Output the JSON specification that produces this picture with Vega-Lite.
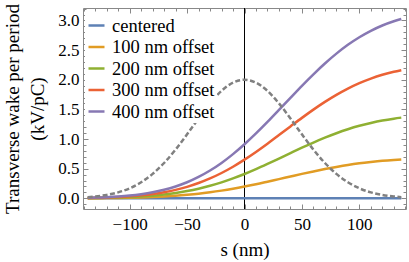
{
  "$schema": "https://vega.github.io/schema/vega-lite/v6.json",
  "width": 323,
  "height": 201,
  "autosize": {"type": "none"},
  "padding": {"left": 83, "top": 8, "right": 3, "bottom": 53},
  "config": {
    "font": "Liberation Serif",
    "view": {"stroke": "#888888", "strokeWidth": 1},
    "axis": {"domain": false, "grid": false, "tickColor": "#888888", "labelColor": "#000000", "labelFont": "Liberation Serif", "labelFontSize": 17, "titleFont": "Liberation Serif", "titleFontSize": 19, "titleFontWeight": "normal", "titleColor": "#000000", "labelOverlap": false, "labelFlush": false, "labelBound": false}
  },
  "datasets": {
    "wake": [
      {"s": -136.5, "k": "centered", "v": 0}, {"s": 136.5, "k": "centered", "v": 0},
      {"s": -136.5, "k": "100 nm offset", "v": 0.002}, {"s": -130, "k": "100 nm offset", "v": 0.003}, {"s": -120, "k": "100 nm offset", "v": 0.004}, {"s": -110, "k": "100 nm offset", "v": 0.007}, {"s": -100, "k": "100 nm offset", "v": 0.010}, {"s": -90, "k": "100 nm offset", "v": 0.015}, {"s": -80, "k": "100 nm offset", "v": 0.022}, {"s": -70, "k": "100 nm offset", "v": 0.031}, {"s": -60, "k": "100 nm offset", "v": 0.043}, {"s": -50, "k": "100 nm offset", "v": 0.059}, {"s": -40, "k": "100 nm offset", "v": 0.078}, {"s": -30, "k": "100 nm offset", "v": 0.102}, {"s": -20, "k": "100 nm offset", "v": 0.130}, {"s": -10, "k": "100 nm offset", "v": 0.162}, {"s": 0, "k": "100 nm offset", "v": 0.198}, {"s": 10, "k": "100 nm offset", "v": 0.237}, {"s": 20, "k": "100 nm offset", "v": 0.280}, {"s": 30, "k": "100 nm offset", "v": 0.324}, {"s": 40, "k": "100 nm offset", "v": 0.368}, {"s": 50, "k": "100 nm offset", "v": 0.412}, {"s": 60, "k": "100 nm offset", "v": 0.454}, {"s": 70, "k": "100 nm offset", "v": 0.493}, {"s": 80, "k": "100 nm offset", "v": 0.529}, {"s": 90, "k": "100 nm offset", "v": 0.562}, {"s": 100, "k": "100 nm offset", "v": 0.590}, {"s": 110, "k": "100 nm offset", "v": 0.613}, {"s": 120, "k": "100 nm offset", "v": 0.633}, {"s": 130, "k": "100 nm offset", "v": 0.648}, {"s": 136.5, "k": "100 nm offset", "v": 0.656},
      {"s": -136.5, "k": "200 nm offset", "v": 0.004}, {"s": -130, "k": "200 nm offset", "v": 0.005}, {"s": -120, "k": "200 nm offset", "v": 0.009}, {"s": -110, "k": "200 nm offset", "v": 0.014}, {"s": -100, "k": "200 nm offset", "v": 0.021}, {"s": -90, "k": "200 nm offset", "v": 0.032}, {"s": -80, "k": "200 nm offset", "v": 0.045}, {"s": -70, "k": "200 nm offset", "v": 0.065}, {"s": -60, "k": "200 nm offset", "v": 0.090}, {"s": -50, "k": "200 nm offset", "v": 0.122}, {"s": -40, "k": "200 nm offset", "v": 0.162}, {"s": -30, "k": "200 nm offset", "v": 0.211}, {"s": -20, "k": "200 nm offset", "v": 0.269}, {"s": -10, "k": "200 nm offset", "v": 0.336}, {"s": 0, "k": "200 nm offset", "v": 0.410}, {"s": 10, "k": "200 nm offset", "v": 0.492}, {"s": 20, "k": "200 nm offset", "v": 0.580}, {"s": 30, "k": "200 nm offset", "v": 0.671}, {"s": 40, "k": "200 nm offset", "v": 0.763}, {"s": 50, "k": "200 nm offset", "v": 0.854}, {"s": 60, "k": "200 nm offset", "v": 0.941}, {"s": 70, "k": "200 nm offset", "v": 1.023}, {"s": 80, "k": "200 nm offset", "v": 1.098}, {"s": 90, "k": "200 nm offset", "v": 1.165}, {"s": 100, "k": "200 nm offset", "v": 1.223}, {"s": 110, "k": "200 nm offset", "v": 1.271}, {"s": 120, "k": "200 nm offset", "v": 1.312}, {"s": 130, "k": "200 nm offset", "v": 1.344}, {"s": 136.5, "k": "200 nm offset", "v": 1.361},
      {"s": -136.5, "k": "300 nm offset", "v": 0.006}, {"s": -130, "k": "300 nm offset", "v": 0.009}, {"s": -120, "k": "300 nm offset", "v": 0.014}, {"s": -110, "k": "300 nm offset", "v": 0.022}, {"s": -100, "k": "300 nm offset", "v": 0.034}, {"s": -90, "k": "300 nm offset", "v": 0.050}, {"s": -80, "k": "300 nm offset", "v": 0.072}, {"s": -70, "k": "300 nm offset", "v": 0.103}, {"s": -60, "k": "300 nm offset", "v": 0.143}, {"s": -50, "k": "300 nm offset", "v": 0.194}, {"s": -40, "k": "300 nm offset", "v": 0.258}, {"s": -30, "k": "300 nm offset", "v": 0.335}, {"s": -20, "k": "300 nm offset", "v": 0.427}, {"s": -10, "k": "300 nm offset", "v": 0.533}, {"s": 0, "k": "300 nm offset", "v": 0.652}, {"s": 10, "k": "300 nm offset", "v": 0.782}, {"s": 20, "k": "300 nm offset", "v": 0.921}, {"s": 30, "k": "300 nm offset", "v": 1.066}, {"s": 40, "k": "300 nm offset", "v": 1.212}, {"s": 50, "k": "300 nm offset", "v": 1.357}, {"s": 60, "k": "300 nm offset", "v": 1.496}, {"s": 70, "k": "300 nm offset", "v": 1.626}, {"s": 80, "k": "300 nm offset", "v": 1.745}, {"s": 90, "k": "300 nm offset", "v": 1.851}, {"s": 100, "k": "300 nm offset", "v": 1.943}, {"s": 110, "k": "300 nm offset", "v": 2.020}, {"s": 120, "k": "300 nm offset", "v": 2.084}, {"s": 130, "k": "300 nm offset", "v": 2.135}, {"s": 136.5, "k": "300 nm offset", "v": 2.162},
      {"s": -136.5, "k": "400 nm offset", "v": 0.009}, {"s": -130, "k": "400 nm offset", "v": 0.012}, {"s": -120, "k": "400 nm offset", "v": 0.020}, {"s": -110, "k": "400 nm offset", "v": 0.031}, {"s": -100, "k": "400 nm offset", "v": 0.047}, {"s": -90, "k": "400 nm offset", "v": 0.070}, {"s": -80, "k": "400 nm offset", "v": 0.101}, {"s": -70, "k": "400 nm offset", "v": 0.144}, {"s": -60, "k": "400 nm offset", "v": 0.200}, {"s": -50, "k": "400 nm offset", "v": 0.271}, {"s": -40, "k": "400 nm offset", "v": 0.361}, {"s": -30, "k": "400 nm offset", "v": 0.469}, {"s": -20, "k": "400 nm offset", "v": 0.597}, {"s": -10, "k": "400 nm offset", "v": 0.746}, {"s": 0, "k": "400 nm offset", "v": 0.912}, {"s": 10, "k": "400 nm offset", "v": 1.094}, {"s": 20, "k": "400 nm offset", "v": 1.288}, {"s": 30, "k": "400 nm offset", "v": 1.491}, {"s": 40, "k": "400 nm offset", "v": 1.695}, {"s": 50, "k": "400 nm offset", "v": 1.898}, {"s": 60, "k": "400 nm offset", "v": 2.092}, {"s": 70, "k": "400 nm offset", "v": 2.274}, {"s": 80, "k": "400 nm offset", "v": 2.440}, {"s": 90, "k": "400 nm offset", "v": 2.589}, {"s": 100, "k": "400 nm offset", "v": 2.717}, {"s": 110, "k": "400 nm offset", "v": 2.825}, {"s": 120, "k": "400 nm offset", "v": 2.915}, {"s": 130, "k": "400 nm offset", "v": 2.986}, {"s": 136.5, "k": "400 nm offset", "v": 3.024}
    ],
    "profile": [
      {"s": -136.5, "v": 0.020}, {"s": -130, "v": 0.031}, {"s": -120, "v": 0.057}, {"s": -110, "v": 0.101}, {"s": -100, "v": 0.169}, {"s": -90, "v": 0.271}, {"s": -80, "v": 0.412}, {"s": -70, "v": 0.596}, {"s": -60, "v": 0.822}, {"s": -50, "v": 1.079}, {"s": -40, "v": 1.347}, {"s": -30, "v": 1.601}, {"s": -20, "v": 1.812}, {"s": -10, "v": 1.951}, {"s": 0, "v": 2.000}, {"s": 10, "v": 1.951}, {"s": 20, "v": 1.812}, {"s": 30, "v": 1.601}, {"s": 40, "v": 1.347}, {"s": 50, "v": 1.079}, {"s": 60, "v": 0.822}, {"s": 70, "v": 0.596}, {"s": 80, "v": 0.412}, {"s": 90, "v": 0.271}, {"s": 100, "v": 0.169}, {"s": 110, "v": 0.101}, {"s": 120, "v": 0.057}, {"s": 130, "v": 0.031}, {"s": 136.5, "v": 0.020}
    ],
    "zero": [{"s": 0}]
  },
  "resolve": {"axis": {"x": "independent", "y": "independent"}},
  "layer": [
    {
      "data": {"name": "zero"},
      "mark": {"type": "rule", "color": "#000000", "strokeWidth": 1},
      "encoding": {
        "x": {"field": "s", "type": "quantitative", "scale": {"domain": [-140.6, 140.6], "nice": false, "zero": false}, "axis": null}
      }
    },
    {
      "data": {"name": "wake"},
      "mark": {"type": "line", "strokeWidth": 2.5, "interpolate": "monotone"},
      "encoding": {
        "x": {"field": "s", "type": "quantitative", "scale": {"domain": [-140.6, 140.6], "nice": false, "zero": false},
          "axis": {"orient": "bottom", "values": [-140,-130,-120,-110,-100,-90,-80,-70,-60,-50,-40,-30,-20,-10,0,10,20,30,40,50,60,70,80,90,100,110,120,130,140],
            "labelExpr": "datum.value % 50 === 0 ? (datum.value < 0 ? '\u2212' + abs(datum.value) : '' + datum.value) : ''",
            "tickSize": {"condition": {"test": "datum.value % 50 === 0", "value": -5}, "value": -3},
            "labelPadding": 12,
            "title": "s (nm)", "titleX": 161.5, "titleY": 46, "titleBaseline": "alphabetic", "titleAlign": "center", "titleAnchor": null}},
        "y": {"field": "v", "type": "quantitative", "scale": {"domain": [-0.18, 3.21], "nice": false, "zero": false},
          "axis": {"orient": "left", "values": [-0.1,0,0.1,0.2,0.3,0.4,0.5,0.6,0.7,0.8,0.9,1,1.1,1.2,1.3,1.4,1.5,1.6,1.7,1.8,1.9,2,2.1,2.2,2.3,2.4,2.5,2.6,2.7,2.8,2.9,3,3.1,3.2],
            "labelExpr": "abs(datum.value*2 - round(datum.value*2)) < 0.001 ? format(datum.value, '.1f') : ''",
            "tickSize": {"condition": {"test": "abs(datum.value*2 - round(datum.value*2)) < 0.001", "value": -5}, "value": -3},
            "labelPadding": 9,
            "title": ["Transverse wake per period", "(kV/pC)"], "titleX": -65, "titleY": 100.5, "titleAngle": -90, "titleBaseline": "alphabetic", "titleAlign": "center", "titleLineHeight": 25}},
        "color": {"field": "k", "type": "nominal",
          "scale": {"domain": ["centered", "100 nm offset", "200 nm offset", "300 nm offset", "400 nm offset"], "range": ["#5E81B5", "#E19C24", "#8FB032", "#EB6235", "#8778B3"]},
          "legend": {"orient": "none", "legendX": 2, "legendY": 6, "title": null, "fillColor": "#ffffff", "padding": 2, "symbolType": "stroke", "symbolSize": 256, "symbolStrokeWidth": 2.5, "labelFont": "Liberation Serif", "labelFontSize": 18.5, "labelColor": "#000000", "labelOffset": 6, "rowPadding": 2.5, "labelLimit": 300}}
      }
    },
    {
      "data": {"name": "profile"},
      "mark": {"type": "line", "strokeWidth": 2.5, "color": "#808080", "strokeDash": [5, 2.5], "interpolate": "monotone"},
      "encoding": {
        "x": {"field": "s", "type": "quantitative", "scale": {"domain": [-140.6, 140.6], "nice": false, "zero": false}, "axis": null},
        "y": {"field": "v", "type": "quantitative", "scale": {"domain": [-0.18, 3.21], "nice": false, "zero": false}, "axis": null}
      }
    },
    {
      "data": {"name": "profile"},
      "mark": {"type": "point", "opacity": 0},
      "encoding": {
        "x": {"field": "s", "type": "quantitative", "scale": {"domain": [-140.6, 140.6], "nice": false, "zero": false},
          "axis": {"orient": "top", "title": null, "labels": false, "values": [-140,-130,-120,-110,-100,-90,-80,-70,-60,-50,-40,-30,-20,-10,0,10,20,30,40,50,60,70,80,90,100,110,120,130,140],
            "tickSize": {"condition": {"test": "datum.value % 50 === 0", "value": -5}, "value": -3}}},
        "y": {"field": "v", "type": "quantitative", "scale": {"domain": [-0.18, 3.21], "nice": false, "zero": false},
          "axis": {"orient": "right", "title": null, "labels": false, "values": [-0.1,0,0.1,0.2,0.3,0.4,0.5,0.6,0.7,0.8,0.9,1,1.1,1.2,1.3,1.4,1.5,1.6,1.7,1.8,1.9,2,2.1,2.2,2.3,2.4,2.5,2.6,2.7,2.8,2.9,3,3.1,3.2],
            "tickSize": {"condition": {"test": "abs(datum.value*2 - round(datum.value*2)) < 0.001", "value": -5}, "value": -3}}}
      }
    }
  ]
}
